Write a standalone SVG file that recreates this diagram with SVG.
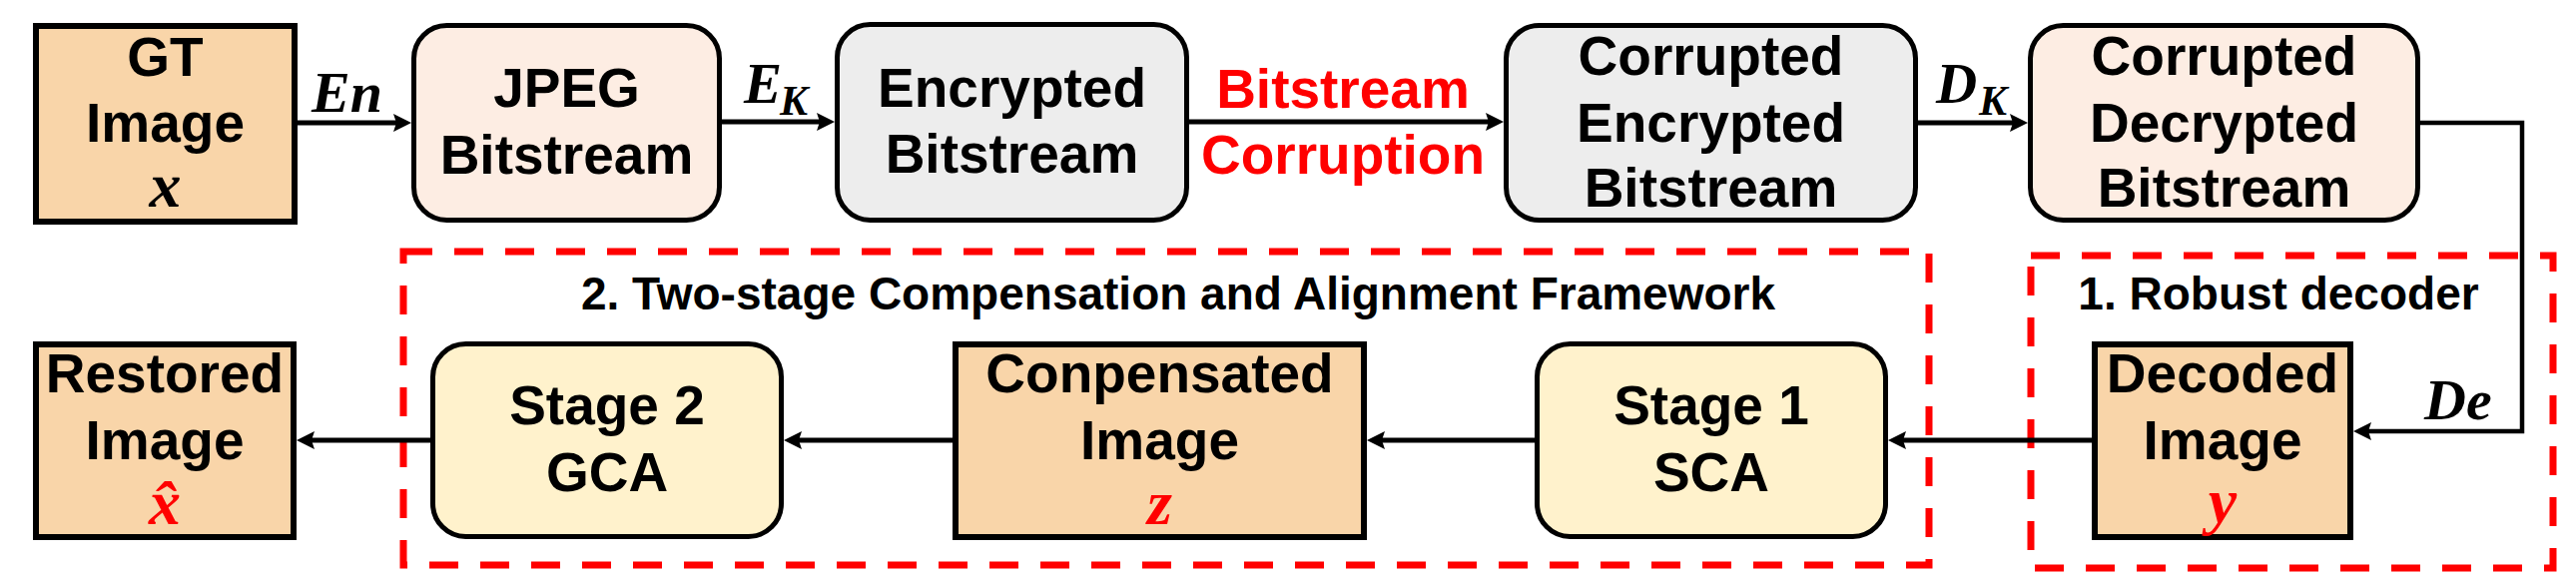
<svg xmlns="http://www.w3.org/2000/svg" width="2580" height="584" viewBox="0 0 2580 584">
<defs>
<style>
.lbl{font-family:"Liberation Sans",Arial,sans-serif;font-weight:bold;font-size:55px;text-anchor:middle;fill:#000}
.ttl{font-family:"Liberation Sans",Arial,sans-serif;font-weight:bold;font-size:46px;text-anchor:middle;fill:#000}
.math{font-family:"Liberation Serif","Times New Roman",serif;font-style:italic;font-weight:bold;fill:#000}
.red{fill:#FF0000}
.math.red{fill:#FF0000}
.sq{fill:#F9D5A9;stroke:#000;stroke-width:6}
.pink{fill:#FDEDE3;stroke:#000;stroke-width:5}
.gray{fill:#EDEDED;stroke:#000;stroke-width:5}
.yel{fill:#FFF2CC;stroke:#000;stroke-width:5}
.dash{fill:none;stroke:#FF0000;stroke-width:7;stroke-dasharray:29 22}
.arr{fill:none;stroke:#000;stroke-width:5}
.thin{fill:none;stroke:#000;stroke-width:4.5}
</style>
<marker id="ah" markerUnits="userSpaceOnUse" markerWidth="20" markerHeight="20" refX="8" refY="9" orient="auto">
<path d="M0,0 L18,9 L0,18 L3,9 z" fill="#000"/>
</marker>
</defs>
<rect width="2580" height="584" fill="#FFFFFF"/>

<g id="frames">
<rect class="dash" x="404" y="252" width="1528" height="314"/>
<rect class="dash" x="2034" y="256" width="523" height="313"/>
<text class="ttl" x="1180" y="310">2. Two-stage Compensation and Alignment Framework</text>
<text class="ttl" x="2282" y="310">1. Robust decoder</text>
</g>

<g id="connectors">
<line class="arr" x1="298" y1="123" x2="402" y2="123" marker-end="url(#ah)"/>
<line class="arr" x1="723" y1="122" x2="826" y2="122" marker-end="url(#ah)"/>
<line class="arr" x1="1191" y1="122" x2="1496" y2="122" marker-end="url(#ah)"/>
<line class="arr" x1="1921" y1="123" x2="2021" y2="123" marker-end="url(#ah)"/>
<polyline class="thin" points="2424,123 2526,123 2526,432 2367,432" marker-end="url(#ah)"/>
<line class="arr" x1="2095" y1="441" x2="1901" y2="441" marker-end="url(#ah)"/>
<line class="arr" x1="1537" y1="441" x2="1379" y2="441" marker-end="url(#ah)"/>
<line class="arr" x1="954" y1="441" x2="795" y2="441" marker-end="url(#ah)"/>
<line class="arr" x1="431" y1="441" x2="307" y2="441" marker-end="url(#ah)"/>
<text class="math" x="312" y="112" font-size="58">En</text>
<text class="math" x="745" y="103" font-size="57">E</text>
<text class="math" x="781" y="115" font-size="42">K</text>
<text class="lbl red" x="1345" y="108">Bitstream</text>
<text class="lbl red" x="1345" y="174">Corruption</text>
<text class="math" x="1939" y="103" font-size="57">D</text>
<text class="math" x="1982" y="115" font-size="42">K</text>
<text class="math" x="2428" y="420" font-size="58">De</text>
</g>

<g id="gt-image">
<rect class="sq" x="36" y="26" width="259" height="196"/>
<text class="lbl" x="165.5" y="76">GT</text>
<text class="lbl" x="165.5" y="142">Image</text>
<text class="math" x="165.5" y="207" font-size="64" text-anchor="middle">x</text>
</g>

<g id="jpeg-bitstream">
<rect class="pink" x="414.5" y="25.5" width="306" height="195" rx="33"/>
<text class="lbl" x="567.5" y="107">JPEG</text>
<text class="lbl" x="567.5" y="174">Bitstream</text>
</g>

<g id="encrypted-bitstream">
<rect class="gray" x="838.5" y="24.5" width="350" height="196" rx="33"/>
<text class="lbl" x="1013.5" y="107">Encrypted</text>
<text class="lbl" x="1013.5" y="173">Bitstream</text>
</g>

<g id="corrupted-encrypted">
<rect class="gray" x="1508.5" y="25.5" width="410" height="195" rx="33"/>
<text class="lbl" x="1713.5" y="75">Corrupted</text>
<text class="lbl" x="1713.5" y="142">Encrypted</text>
<text class="lbl" x="1713.5" y="207">Bitstream</text>
</g>

<g id="corrupted-decrypted">
<rect class="pink" x="2033.5" y="25.5" width="388" height="195" rx="33"/>
<text class="lbl" x="2227.5" y="75">Corrupted</text>
<text class="lbl" x="2227.5" y="142">Decrypted</text>
<text class="lbl" x="2227.5" y="207">Bitstream</text>
</g>

<g id="decoded-image">
<rect class="sq" x="2098" y="345" width="256" height="193"/>
<text class="lbl" x="2226" y="393">Decoded</text>
<text class="lbl" x="2226" y="460">Image</text>
<text class="math red" x="2226" y="523" font-size="64" text-anchor="middle">y</text>
</g>

<g id="stage1-sca">
<rect class="yel" x="1539.5" y="344.5" width="349" height="193" rx="33"/>
<text class="lbl" x="1714" y="425">Stage 1</text>
<text class="lbl" x="1714" y="492">SCA</text>
</g>

<g id="compensated-image">
<rect class="sq" x="957" y="345" width="409" height="193"/>
<text class="lbl" x="1161.5" y="393">Conpensated</text>
<text class="lbl" x="1161.5" y="460">Image</text>
<text class="math red" x="1161.5" y="525" font-size="64" text-anchor="middle">z</text>
</g>

<g id="stage2-gca">
<rect class="yel" x="433.5" y="344.5" width="349" height="193" rx="33"/>
<text class="lbl" x="608" y="425">Stage 2</text>
<text class="lbl" x="608" y="492">GCA</text>
</g>

<g id="restored-image">
<rect class="sq" x="36" y="345" width="258" height="193"/>
<text class="lbl" x="165" y="393">Restored</text>
<text class="lbl" x="165" y="460">Image</text>
<text class="math red" x="165" y="525" font-size="64" text-anchor="middle">x̂</text>
</g>
</svg>
